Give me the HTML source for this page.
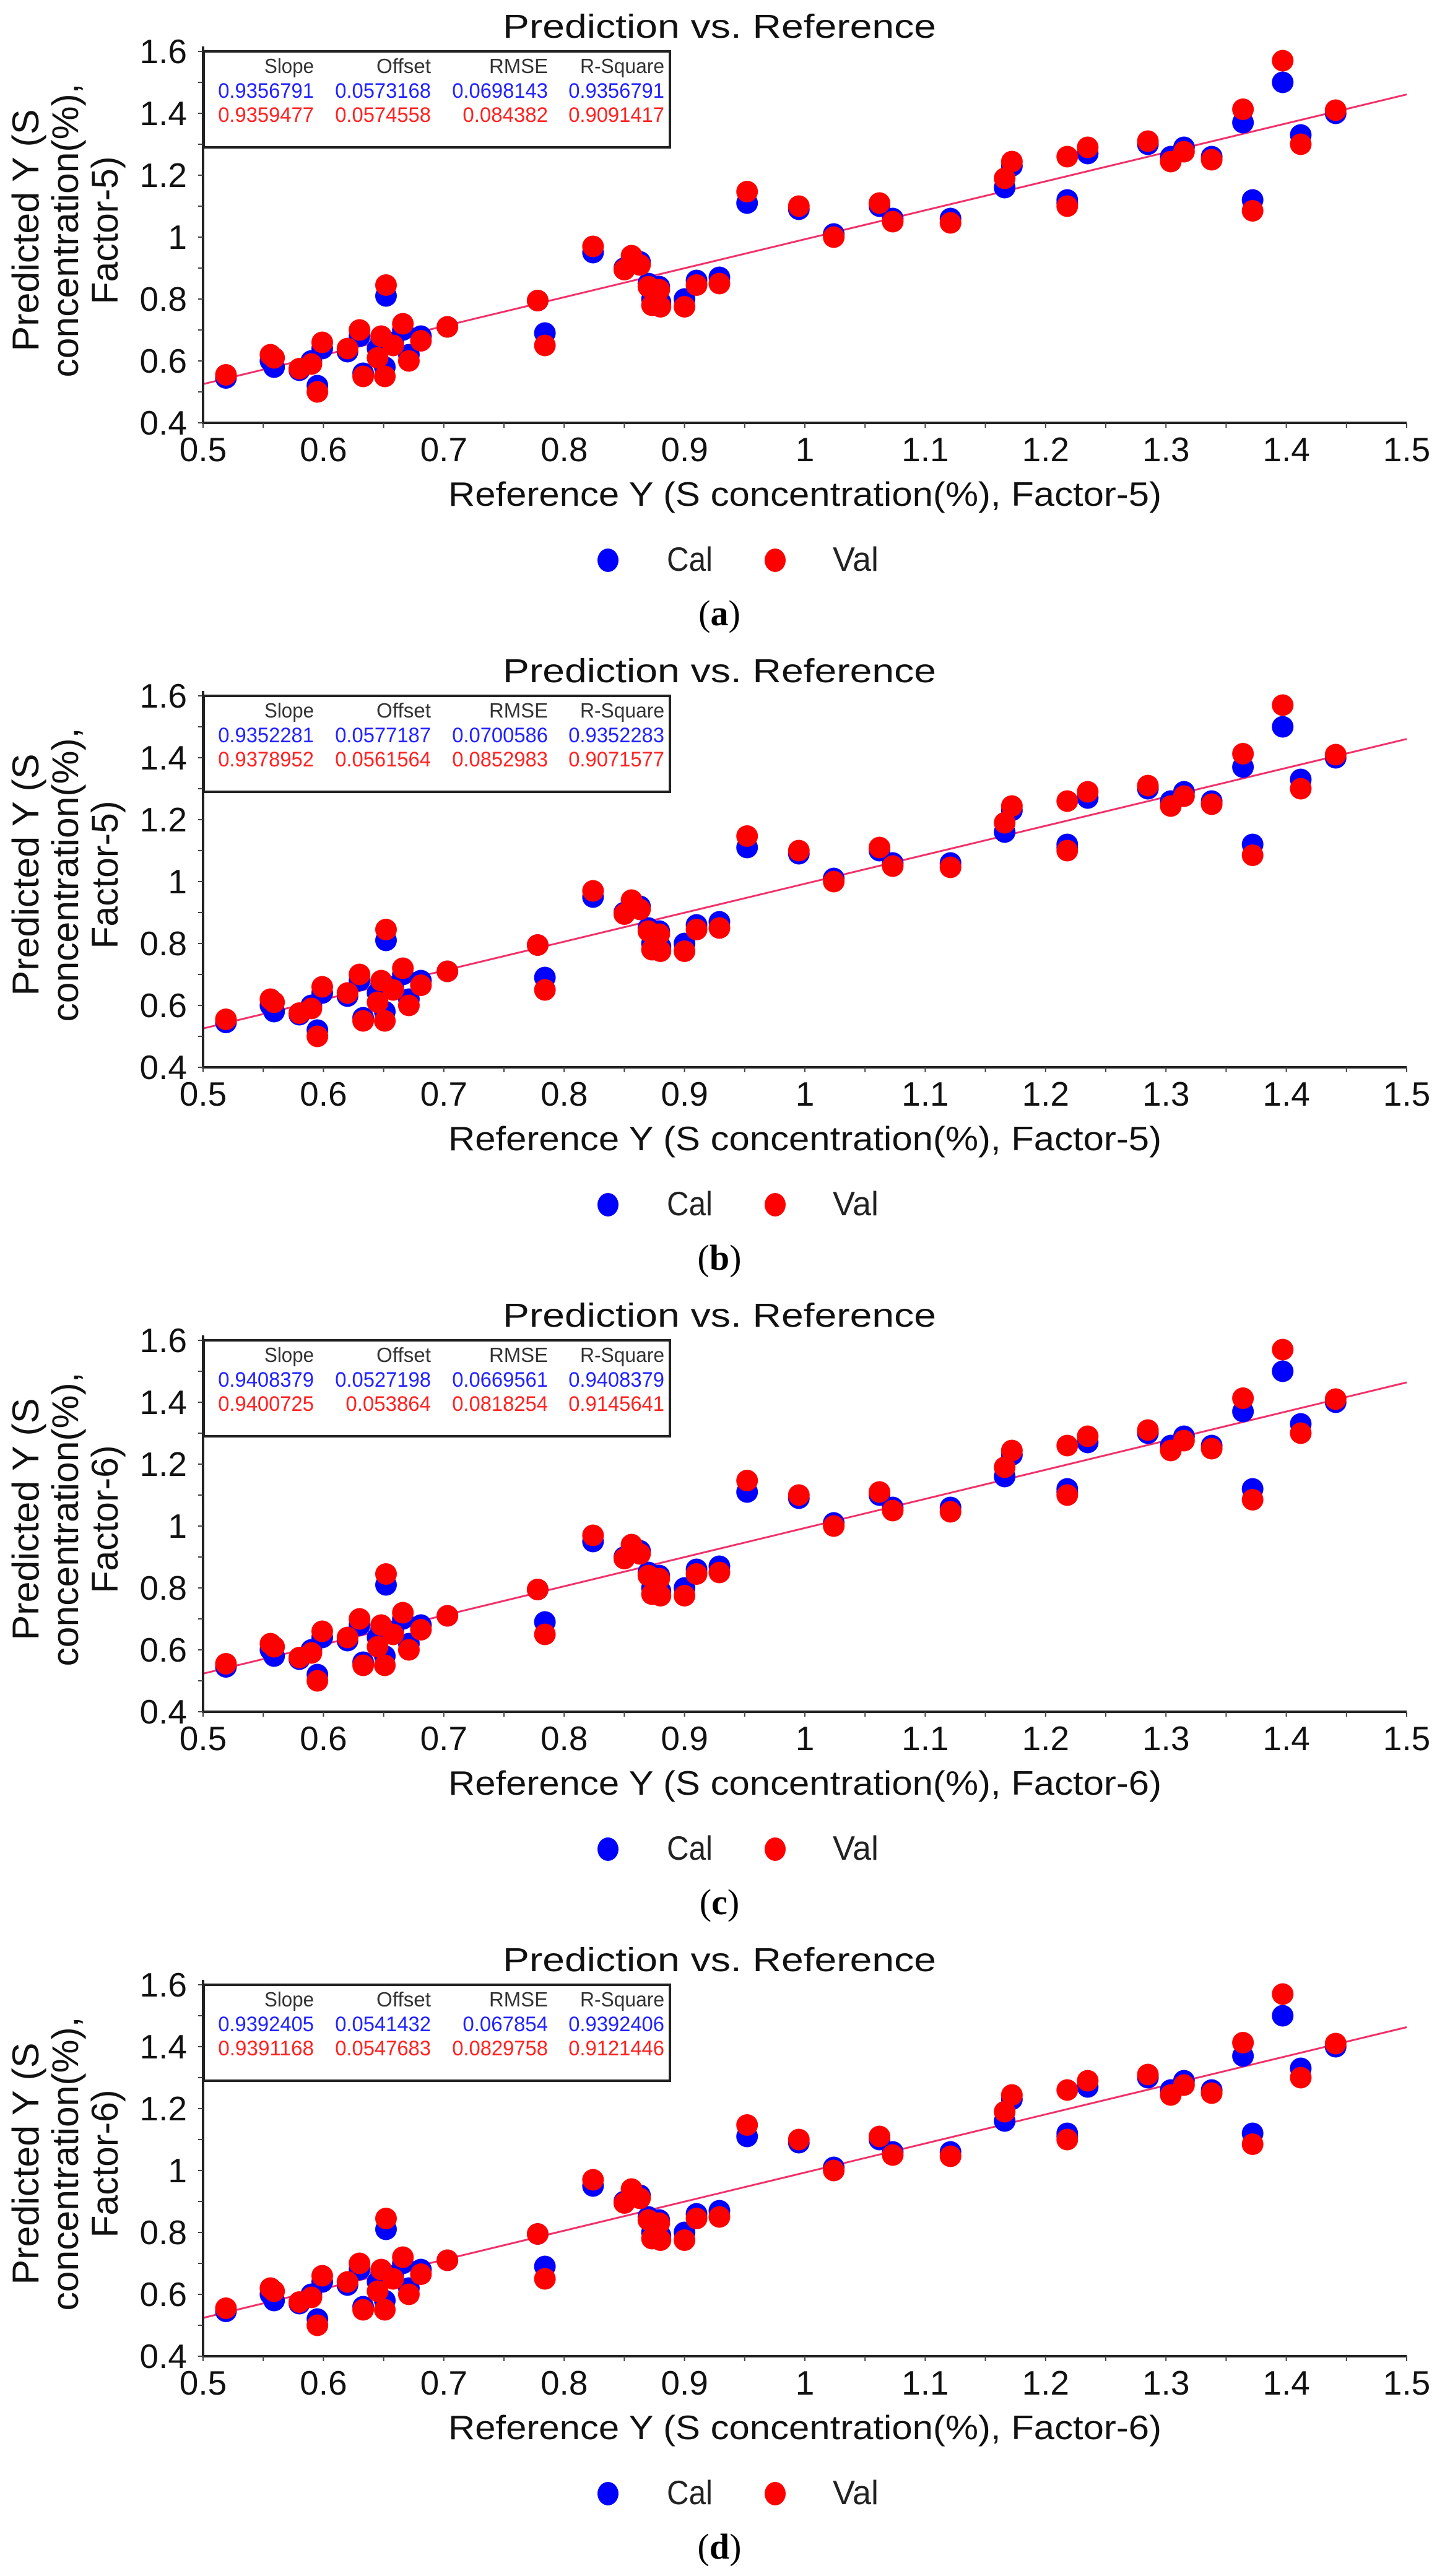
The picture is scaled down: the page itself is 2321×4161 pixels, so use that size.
<!DOCTYPE html>
<html><head><meta charset="utf-8"><style>
html,body{margin:0;padding:0;background:#fff;}
svg{display:block;font-family:"Liberation Sans",Arial,sans-serif;}
</style></head><body>
<svg id="fig" width="2321" height="4161" viewBox="0 0 2321 4161" xmlns="http://www.w3.org/2000/svg"></svg>
<script>
// ---- data ----
const xRef = [0.519,0.556,0.559,0.580,0.590,0.595,0.599,0.620,0.630,0.633,0.645,0.648,0.651,0.652,0.658,0.666,0.671,0.681,0.703,0.778,0.784,0.824,0.850,0.856,0.863,0.870,0.873,0.879,0.880,0.900,0.910,0.929,0.952,0.995,1.024,1.062,1.073,1.121,1.166,1.172,1.218,1.218,1.235,1.285,1.304,1.315,1.338,1.364,1.372,1.397,1.412,1.441];
const valY = [0.555,0.620,0.610,0.575,0.590,0.500,0.660,0.640,0.700,0.550,0.610,0.680,0.550,0.845,0.650,0.720,0.600,0.665,0.710,0.795,0.650,0.970,0.895,0.940,0.910,0.840,0.780,0.830,0.775,0.775,0.845,0.850,1.147,1.100,1.000,1.110,1.050,1.046,1.190,1.244,1.260,1.100,1.290,1.310,1.244,1.276,1.250,1.413,1.085,1.570,1.300,1.410];
const calY = [0.545,0.600,0.580,0.570,0.600,0.520,0.640,0.630,0.680,0.560,0.640,0.670,0.580,0.810,0.660,0.700,0.620,0.680,0.710,0.795,0.690,0.950,0.900,0.920,0.920,0.850,0.800,0.840,0.790,0.800,0.860,0.870,1.110,1.090,1.010,1.100,1.060,1.060,1.160,1.230,1.120,1.110,1.270,1.300,1.260,1.290,1.260,1.370,1.120,1.500,1.330,1.400];
const xTicks = ["0.5","0.6","0.7","0.8","0.9","1","1.1","1.2","1.3","1.4","1.5"];
const yTicks = ["0.4","0.6","0.8","1","1.2","1.4","1.6"];
const panelLabels = ["a","b","c","d"];
const factors = ["5","5","6","6"];
const slopes = [0.9356791,0.9352281,0.9408379,0.9392405];
const offsets = [0.0573168,0.0577187,0.0527198,0.0541432];
const calStats = [["0.9356791","0.0573168","0.0698143","0.9356791"],["0.9352281","0.0577187","0.0700586","0.9352283"],["0.9408379","0.0527198","0.0669561","0.9408379"],["0.9392405","0.0541432","0.067854","0.9392406"]];
const valStats = [["0.9359477","0.0574558","0.084382","0.9091417"],["0.9378952","0.0561564","0.0852983","0.9071577"],["0.9400725","0.053864","0.0818254","0.9145641"],["0.9391168","0.0547683","0.0829758","0.9121446"]];

const NS="http://www.w3.org/2000/svg";
const svg=document.getElementById('fig');
function mk(tag,attrs,parent){const e=document.createElementNS(NS,tag);for(const k in attrs)e.setAttribute(k,attrs[k]);(parent||svg).appendChild(e);return e;}
const X0=328,X1=2272,YT=83,YB=683,PERIOD=1041;
function sx(v){return X0+(v-0.5)/1.0*(X1-X0);}
function sy(v,off){return off+YB-(v-0.4)/1.2*(YB-YT);}

for(let p=0;p<4;p++){
  const off=p*PERIOD;
  const g=mk('g',{});
  
  
  // title
  const t=mk('text',{x:1162,y:off+61,'font-size':54,'text-anchor':'middle',textLength:700,lengthAdjust:'spacingAndGlyphs',fill:'#111'},g);
  t.textContent='Prediction vs. Reference';
  
  
  // regression line
  const ln=mk('line',{x1:sx(0.5),y1:sy(0.5*slopes[p]+offsets[p],off),x2:sx(1.5),y2:sy(1.5*slopes[p]+offsets[p],off),stroke:'#f0306a','stroke-width':3},g);
  
  
  // points
  for(let i=0;i<xRef.length;i++){
    const c=mk('circle',{cx:sx(xRef[i]),cy:sy(calY[i],off),r:17.5,fill:'#0000ff'},g);
    
    
  }
  for(let i=0;i<xRef.length;i++){
    const c=mk('circle',{cx:sx(xRef[i]),cy:sy(valY[i],off),r:17.5,fill:'#ff0000'},g);
    
    
  }
  // axes
  const ax=mk('path',{d:`M${X0},${off+YT-8} L${X0},${off+YB} L${X1},${off+YB}`,fill:'none',stroke:'#222','stroke-width':4},g);
  
  
  for(let k=0;k<=20;k++){
    const v=0.5+k*0.05, xx=sx(v);
    mk('line',{x1:xx,y1:off+YB,x2:xx,y2:off+YB+8,stroke:'#444','stroke-width':2},g);
  }
  for(let k=0;k<=12;k++){
    const v=0.4+k*0.1, yy=sy(v,off);
    mk('line',{x1:X0,y1:yy,x2:X0-8,y2:yy,stroke:'#444','stroke-width':2},g);
  }
  xTicks.forEach((s)=>{
    const tt=mk('text',{x:sx(parseFloat(s)),y:off+745,'font-size':55,'text-anchor':'middle',fill:'#111'},g);
    tt.textContent=s;
    
    
  });
  yTicks.forEach((s)=>{
    const tt=mk('text',{x:302,y:sy(parseFloat(s),off)+19,'font-size':55,'text-anchor':'end',fill:'#111'},g);
    tt.textContent=s;
    
    
  });
  // axis titles
  const xt=mk('text',{x:1300,y:off+817,'font-size':55,'text-anchor':'middle',textLength:1152,lengthAdjust:'spacingAndGlyphs',fill:'#111'},g);
  xt.textContent='Reference Y (S concentration(%), Factor-'+factors[p]+')';
  
  
  const ylines=[['Predicted Y (S',62,391],['concentration(%),',126,475],['Factor-'+factors[p]+')',190,239]];
  ylines.forEach((L)=>{
    const yt=mk('text',{x:0,y:0,'font-size':60,'text-anchor':'middle',textLength:L[2],lengthAdjust:'spacingAndGlyphs',fill:'#111',transform:`translate(${L[1]},${off+372}) rotate(-90)`},g);
    yt.textContent=L[0];
    
    
  });
  // stats box
  const bx=mk('rect',{x:329,y:off+83,width:753,height:155,fill:'#fff',stroke:'#222','stroke-width':4},g);
  
  
  const cols=[507,696,885,1073];
  const heads=['Slope','Offset','RMSE','R-Square'];
  const headW=[80,88,95,136];
  heads.forEach((h,i)=>{
    const tt=mk('text',{x:cols[i],y:off+118,'font-size':33,'text-anchor':'end',fill:'#333',textLength:headW[i],lengthAdjust:'spacingAndGlyphs'},g);
    tt.textContent=h;
    
    
  });
  calStats[p].forEach((s,i)=>{
    const tt=mk('text',{x:cols[i],y:off+158,'font-size':34,'text-anchor':'end',fill:'#2222ff',textLength:s.length*17.2,lengthAdjust:'spacingAndGlyphs'},g);
    tt.textContent=s;
    
    
  });
  valStats[p].forEach((s,i)=>{
    const tt=mk('text',{x:cols[i],y:off+197,'font-size':34,'text-anchor':'end',fill:'#ff2222',textLength:s.length*17.2,lengthAdjust:'spacingAndGlyphs'},g);
    tt.textContent=s;
    
    
  });
  // legend
  const lc=mk('ellipse',{cx:982,cy:off+905,rx:17,ry:19,fill:'#0000ff'},g);
  
  
  const lct=mk('text',{x:1077,y:off+922,'font-size':55,fill:'#222',textLength:74,lengthAdjust:'spacingAndGlyphs'},g);
  lct.textContent='Cal';
  
  
  const lv=mk('ellipse',{cx:1252,cy:off+905,rx:17,ry:19,fill:'#ff0000'},g);
  
  
  const lvt=mk('text',{x:1345,y:off+922,'font-size':55,fill:'#222',textLength:74,lengthAdjust:'spacingAndGlyphs'},g);
  lvt.textContent='Val';
  
  
  // panel label
  const pl=mk('text',{x:1162,y:off+1010,'font-size':58,'text-anchor':'middle',fill:'#000','font-family':'"Liberation Serif",serif'},g);
  pl.innerHTML='(<tspan font-weight="bold">'+panelLabels[p]+'</tspan>)';
  
  
}
</script>
</body></html>
